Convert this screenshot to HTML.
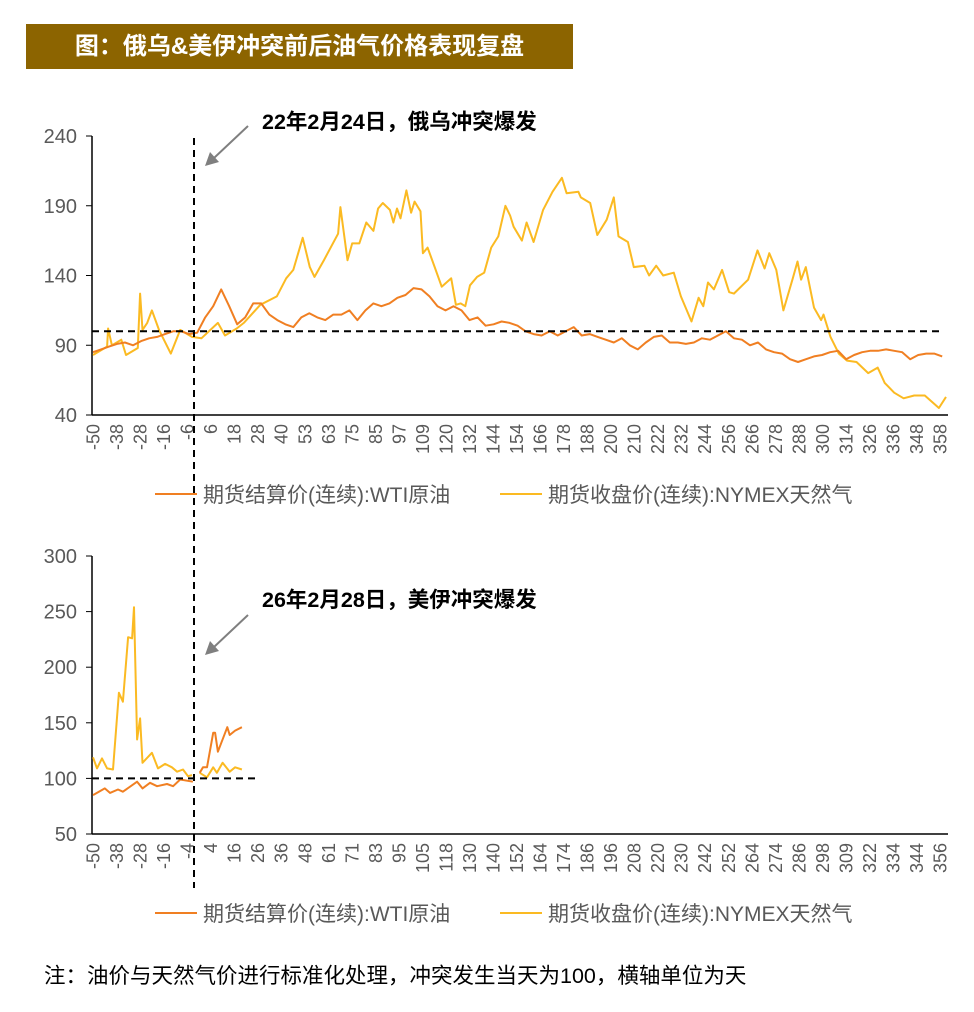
<!DOCTYPE html>
<html><head><meta charset="utf-8">
<style>
body{margin:0;background:#fff;width:974px;height:1012px;overflow:hidden;font-family:"Liberation Sans","Noto Sans CJK SC",sans-serif;}
#title{position:absolute;left:26px;top:24px;width:547px;height:45px;background:#8C6400;color:#fff;font-weight:bold;font-size:24px;line-height:45px;text-align:center;}
svg{position:absolute;left:0;top:0;}
</style></head><body>
<div id="title">图：俄乌&amp;美伊冲突前后油气价格表现复盘</div>
<svg id="chart" width="974" height="1012"></svg>
<script>
const topLabels=["-50","-38","-28","-16","-6","6","18","28","40","53","63","75","85","97","109","120","132","144","154","166","178","188","200","210","222","232","244","256","266","278","288","300","314","326","336","348","358"];
const botLabels=["-50","-38","-28","-16","-4","4","16","26","36","48","61","71","83","95","105","118","130","140","152","164","174","186","196","208","220","230","242","252","264","274","286","298","309","322","334","344","356"];
const topYTicks=[40,90,140,190,240];
const botYTicks=[50,100,150,200,250,300];
const topWti=[85,87,89,91,92,90,93,95,96,98,100,100,98,99,110,118,130,118,105,110,120,120,112,108,105,103,110,113,110,108,112,112,115,108,115,120,118,120,124,126,131,130,125,118,115,118,115,108,110,104,105,107,106,104,100,98,97,100,97,100,103,97,98,96,94,92,95,90,87,92,96,97,92,92,91,92,95,94,97,100,95,94,90,92,87,85,84,80,78,80,82,83,85,86,80,83,85,86,86,87,86,85,80,83,84,84,82];
const wtiStep=3.4;
const topGasDays=[0,6,6.4,8,12,14,19,20,21,23,25,28,33,37,42,46,53,56,61,64,71,78,82,85,89,92,94,98,104,105,108,110,113,116,119,121,123,126,127.5,129,130.5,133,135,136.5,139,140,142,145,148,152,154,156,158,160,163,166,169,172,175,177,178.5,182,184,187,191,195,199,201,206,207,211,214,218,221,223,227,229.5,234,236,239,242,246.5,249.5,254,257,259,261,263.5,267,270,272,278,282,285,287,290,293,297,299,300.5,302.5,306,309,310,313,316.5,320,324,329,333,336,340,344,348.5,353,359,362];
const topGasVals=[83,89,102,90,94,83,88,127,101,106,115,101,84,101,96,95,106,97,102,106,119,125,138,144,167,146,139,151,170,189,151,163,163,178,172,188,192,187,178,188,181,201,185,193,186,156,160,146,132,138,119,120,118,133,139,142,160,168,190,183,175,165,178,164,187,200,210,199,200,196,192,169,180,196,168,164,146,147,140,147,140,142,125,107,124,118,135,130,144,128,127,137,158,145,156,144,115,138,150,137,146,117,108,112,96,84,79,78,70,74,63,56,52,54,54,45,53];
const botGasDays=[0,1.7,3.8,6,8.5,11,12.7,14.9,16.6,17.4,18.7,20,21,25,27.6,30.6,33.5,35.7,38.2,40.3,42,null,45.3,48.4,51,52.6,55,58,60.3,63.2];
const botGasVals=[119,109,118,109,108,177,169,227,226,254,135,154,114,123,109,113,110,106,108,102,103,null,105,101,110,105,114,106,110,108];
const botWtiDays=[0,5,7.2,10.6,12.7,18.7,21,24.2,27.2,31.4,34,37,42.4,null,45.3,46.7,48.4,51,51.8,53,57,58,60.3,63.2];
const botWtiVals=[85,91,87,90,88,97,91,96,93,95,93,99,97,null,105,110,110,141,141,124,146,139,143,146];

const NS="http://www.w3.org/2000/svg";
const svgEl=document.getElementById('chart');
function mk(tag,attrs,parent){const e=document.createElementNS(NS,tag);for(const k in attrs)e.setAttribute(k,attrs[k]);(parent||svgEl).appendChild(e);return e;}
const X0=93,X1=946,DMAX=362;
function xs(d){return X0+d*(X1-X0)/DMAX;}
const ORANGE="#F07F22",YELLOW="#FBBA22";

function panel(name,yTop,yBot,vMin,vMax,yTicks,labels){
  const ys=v=>yBot-(v-vMin)/(vMax-vMin)*(yBot-yTop);
  const g=mk('g',{});
  
  
  const ya=mk('line',{x1:92,y1:yTop,x2:92,y2:yBot,stroke:'#000','stroke-width':1.5},g);
  
  
  const xa=mk('line',{x1:92,y1:yBot,x2:948,y2:yBot,stroke:'#000','stroke-width':1.5},g);
  
  
  yTicks.forEach(v=>{
    mk('line',{x1:86,y1:ys(v),x2:92,y2:ys(v),stroke:'#000','stroke-width':1},g);
    const t=mk('text',{x:77,y:ys(v)+7,'text-anchor':'end','font-size':20,fill:'#595959'},g);
    t.textContent=v;
    
    
  });
  labels.forEach((l,i)=>{
    const x=93+i*(940-93)/(labels.length-1);
    const t=mk('text',{x:0,y:0,'text-anchor':'end','font-size':18,fill:'#595959',transform:`translate(${x+6.5},${yBot+9}) rotate(-90)`},g);
    t.textContent=l;
    
    
  });
  return {g,ys};
}
function drawLine(g,ys,days,vals,color,name){
  let d='',pen=false;
  for(let i=0;i<vals.length;i++){
    if(vals[i]==null||days[i]==null){pen=false;continue;}
    d+=(pen?'L':'M')+xs(days[i]).toFixed(1)+','+ys(vals[i]).toFixed(1);pen=true;
  }
  const p=mk('path',{d:d,fill:'none',stroke:color,'stroke-width':2,'stroke-linejoin':'round'},g);
  
  
}
const topP=panel('top-chart',136,415,40,240,topYTicks,topLabels);
const topWtiDays=topWti.map((v,i)=>i*wtiStep);
drawLine(topP.g,topP.ys,topGasDays,topGasVals,YELLOW,'nymex-gas-line-2022');
drawLine(topP.g,topP.ys,topWtiDays,topWti,ORANGE,'wti-line-2022');
const h1=mk('line',{x1:92,y1:topP.ys(100),x2:942,y2:topP.ys(100),stroke:'#000','stroke-width':2,'stroke-dasharray':'7,5'});



const botP=panel('bottom-chart',556,834,50,300,botYTicks,botLabels);
drawLine(botP.g,botP.ys,botGasDays,botGasVals,YELLOW,'nymex-gas-line-2026');
drawLine(botP.g,botP.ys,botWtiDays,botWtiVals,ORANGE,'wti-line-2026');
const h2=mk('line',{x1:92,y1:botP.ys(100),x2:258,y2:botP.ys(100),stroke:'#000','stroke-width':2,'stroke-dasharray':'7,5'});



const vl=mk('line',{x1:194,y1:138,x2:194,y2:888,stroke:'#000','stroke-width':2,'stroke-dasharray':'7,5'});



function annot(text,ty,ay1){
  const t=mk('text',{x:262,y:ty,'font-size':21.5,'font-weight':'bold',fill:'#000'});
  t.textContent=text;
  
  
  const a=mk('line',{x1:248,y1:ay1,x2:214,y2:ay1+32,stroke:'#7f7f7f','stroke-width':2});
  
  
  const h=mk('polygon',{points:`205,${ay1+40} 210,${ay1+26} 219,${ay1+36}`,fill:'#7f7f7f'});
  
  
}
annot('22年2月24日，俄乌冲突爆发',129,126);
annot('26年2月28日，美伊冲突爆发',607,615);

function legend(y){
  const items=[[155,ORANGE,'期货结算价(连续):WTI原油'],[500,YELLOW,'期货收盘价(连续):NYMEX天然气']];
  items.forEach(it=>{
    const l=mk('line',{x1:it[0],y1:y,x2:it[0]+42,y2:y,stroke:it[1],'stroke-width':2});
    
    
    const t=mk('text',{x:it[0]+48,y:y+8,'font-size':21,fill:'#595959'});
    t.textContent=it[2];
    
    
  });
}
legend(494);
legend(913);
const note=mk('text',{x:44,y:983,'font-size':21.5,fill:'#000'});
note.textContent='注：油价与天然气价进行标准化处理，冲突发生当天为100，横轴单位为天';


</script>
</body></html>
